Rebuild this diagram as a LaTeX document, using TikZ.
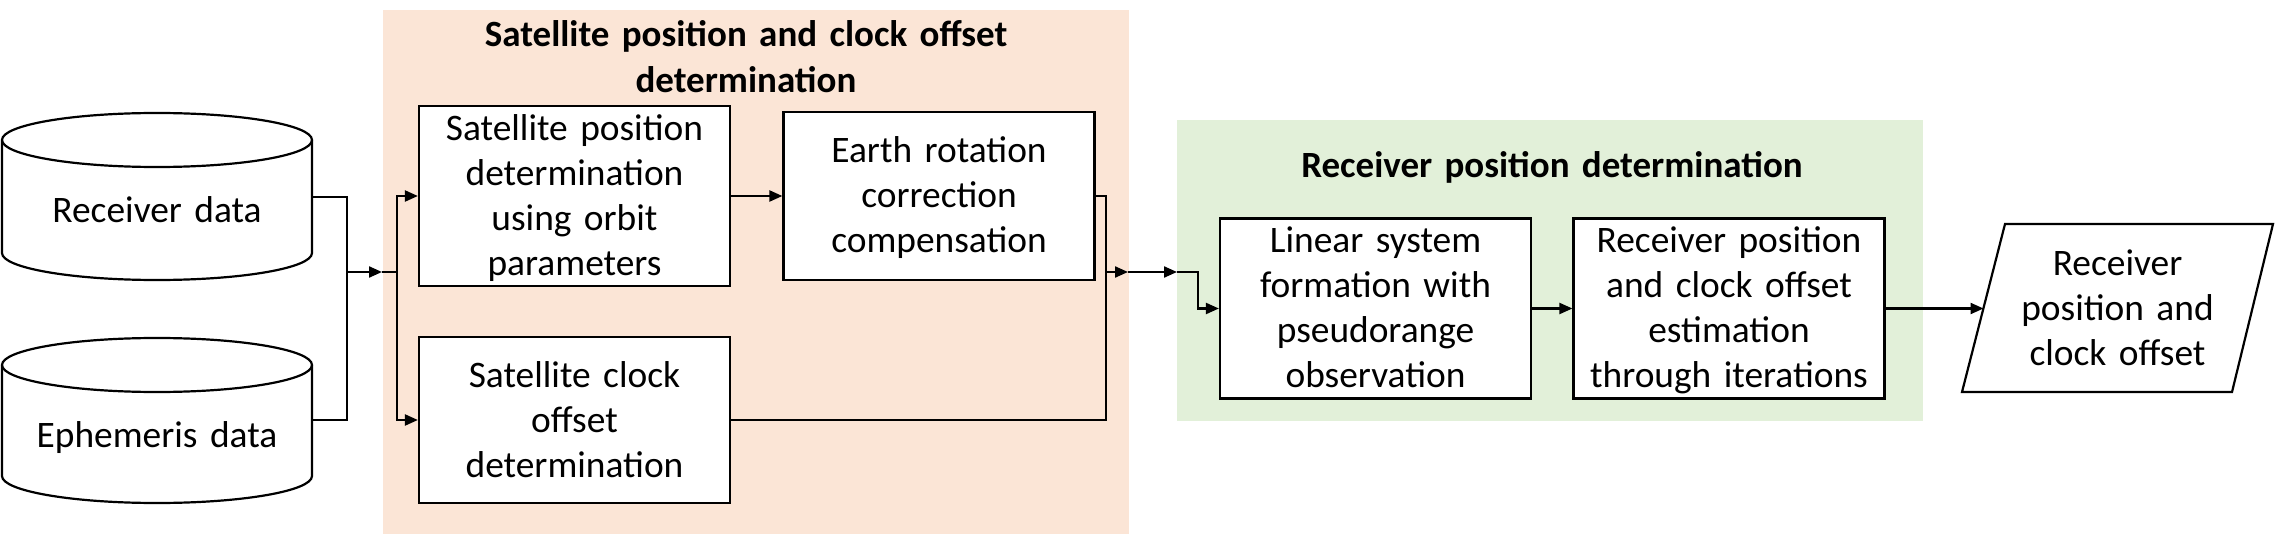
\documentclass[tikz,border=0pt]{standalone}
\usepackage{fontspec}
\setmainfont{Carlito}
\usetikzlibrary{arrows.meta}
\definecolor{peach}{HTML}{FBE5D6}
\definecolor{lgreen}{HTML}{E2F0D9}
\newcommand\mystrut{\rule[-5.25pt]{0pt}{22.5pt}}
\begin{document}
\begin{tikzpicture}[x=0.5pt,y=-0.5pt,
  txt/.style={font=\fontsize{18.7}{22.5}\selectfont, align=center, inner sep=0pt, text width=152pt,
    execute at begin node=\mystrut, execute at end node=\mystrut},
  ttl/.style={font=\bfseries\fontsize{18.5}{23}\selectfont, align=center, inner sep=0pt, text width=300pt,
    execute at begin node=\mystrut, execute at end node=\mystrut},
  box/.style={txt, draw, fill=white, line width=1.1pt, minimum width=155.5pt, minimum height=84pt},
  shp/.style={line width=1.1pt, fill=white},
  conn/.style={line width=1.1pt},
  arr/.style={line width=1.1pt, -{Triangle[length=6.5pt,width=5.5pt]}}]
\useasboundingbox (0,0) rectangle (2275,534);
% backgrounds
\fill[peach] (383,10) rectangle (1129,534);
\fill[lgreen] (1177,120) rectangle (1923,421);
\node[ttl] (t1) at (746,58) {Satellite position and clock offset\\determination};
\node[ttl] (t2) at (1552,166) {Receiver position determination};
% cylinders
\draw[shp] (2,140) -- (2,253) arc[start angle=180,end angle=360,x radius=77.5pt,y radius=13.5pt]
  -- (312,140) arc[start angle=0,end angle=180,x radius=77.5pt,y radius=13.5pt] -- cycle;
\draw[conn] (2,140) arc[start angle=180,end angle=360,x radius=77.5pt,y radius=13.5pt];
\node[txt] (rd) at (157,211) {Receiver data};
\draw[shp] (2,365) -- (2,476) arc[start angle=180,end angle=360,x radius=77.5pt,y radius=13.5pt]
  -- (312,365) arc[start angle=0,end angle=180,x radius=77.5pt,y radius=13.5pt] -- cycle;
\draw[conn] (2,365) arc[start angle=180,end angle=360,x radius=77.5pt,y radius=13.5pt];
\node[txt] (ed) at (157,435) {Ephemeris data};
\coordinate (rdout) at (312,197);
\coordinate (edout) at (312,420);
% boxes
\node[box] (b1) at (574.5,196) {Satellite position\\determination\\using orbit\\parameters};
\node[box] (b2) at (939,196) {Earth rotation\\correction\\compensation};
\node[box, minimum height=83pt] (b3) at (574.5,420) {Satellite clock\\offset\\determination};
\node[box, minimum height=83.5pt] (b4) at (1375.5,308.5) {Linear system\\formation with\\pseudorange\\observation};
\node[box, minimum height=83.5pt] (b5) at (1729,308.5) {Receiver position\\and clock offset\\estimation\\through iterations};
% output parallelogram
\draw[shp] (2005,224) -- (2273,224) -- (2232,392) -- (1962,392) -- cycle;
\node[txt, text width=130pt] (out) at (2117.5,309) {Receiver\\position and\\clock offset};
\coordinate (outL) at (1983.5,308.5);
% junction coordinates
\coordinate (j1) at (347,272);
\coordinate (j2) at (382,272);
\coordinate (j3) at (397,272);
\coordinate (j4) at (1106,272);
\coordinate (j5) at (1128,272);
\coordinate (j6) at (1177,272);
\coordinate (j7) at (1198,272);
% connectors
\draw[conn] (rdout) -| (j1);
\draw[conn] (edout) -| (j1);
\draw[arr] (j1) -- (j2);
\draw[conn] (j2) -- (j3);
\draw[arr] (j3) |- (b1.west);
\draw[arr] (j3) |- (b3.west);
\draw[arr] (b1.east) -- (b2.west);
\draw[conn] (b2.east) -| (j4);
\draw[conn] (b3.east) -| (j4);
\draw[arr] (j4) -- (j5);
\draw[arr] (j5) -- (j6);
\draw[arr] (j6) -- (j7) |- (b4.west);
\draw[arr] (b4.east) -- (b5.west);
\draw[arr] (b5.east) -- (outL);
\end{tikzpicture}
\end{document}
